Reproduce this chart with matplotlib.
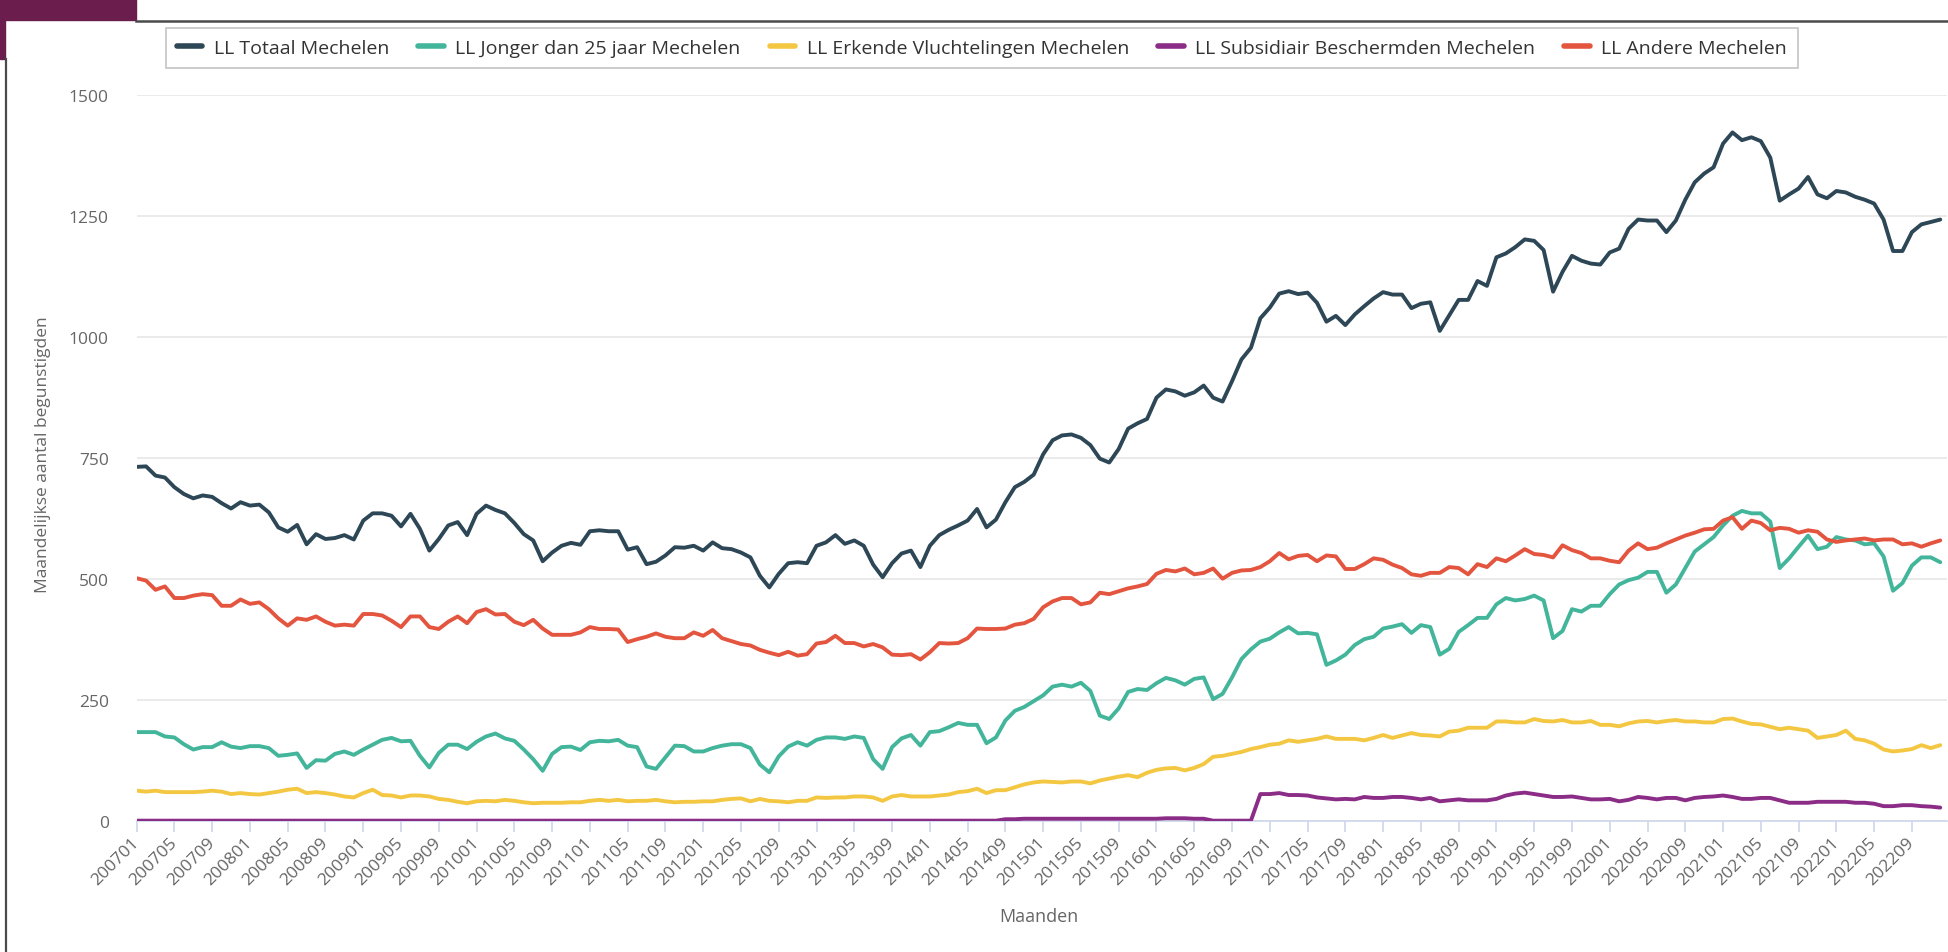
"""Leefloon Mechelen: monthly beneficiaries per category, 2007-2022."""
import matplotlib

matplotlib.use("Agg")
import matplotlib.pyplot as plt  # noqa: E402
from matplotlib.lines import Line2D  # noqa: E402
from matplotlib.patches import Rectangle  # noqa: E402

plt.rcParams["font.family"] = ["Open Sans", "DejaVu Sans"]

months = [f"{year}{month:02d}" for year in range(2007, 2023) for month in range(1, 13)]

totaal = [
    731, 732, 713, 709, 689, 675, 666, 672, 669, 656, 645, 658, 651, 653, 637, 606,
    597, 611, 571, 592, 582, 584, 590, 581, 620, 635, 635, 630, 608, 634, 603, 558,
    582, 610, 617, 590, 634, 651, 642, 635, 615, 592, 579, 536, 554, 568, 574, 570,
    598, 600, 598, 598, 560, 565, 530, 535, 548, 565, 564, 568, 558, 575, 563, 561,
    554, 544, 506, 482, 510, 532, 534, 532, 568, 575, 590, 572, 579, 568, 529, 503,
    532, 552, 558, 524, 568, 590, 601, 610, 620, 644, 606, 622, 658, 689, 700, 715,
    757, 786, 796, 798, 791, 776, 748, 740, 768, 810, 821, 830, 874, 891, 887, 878,
    885, 899, 874, 866, 908, 953, 977, 1038, 1060, 1089, 1094, 1088, 1091, 1070, 1031, 1043,
    1024, 1046, 1063, 1079, 1092, 1087, 1087, 1059, 1068, 1071, 1012, 1044, 1076, 1076, 1115, 1105,
    1164, 1172, 1185, 1201, 1198, 1179, 1093, 1134, 1167, 1157, 1151, 1149, 1174, 1182, 1223, 1242,
    1240, 1240, 1216, 1240, 1283, 1319, 1337, 1350, 1399, 1422, 1406, 1412, 1404, 1370, 1281, 1294,
    1306, 1330, 1294, 1286, 1301, 1298, 1289, 1283, 1275, 1242, 1177, 1177, 1216, 1232, 1237, 1242,
]

jonger = [
    183, 183, 183, 174, 172, 158, 147, 152, 152, 162, 153, 150, 154, 154, 150, 134,
    136, 139, 109, 125, 124, 138, 143, 136, 147, 157, 167, 171, 164, 165, 134, 110,
    140, 157, 157, 148, 163, 174, 180, 170, 165, 147, 127, 103, 138, 152, 153, 146,
    162, 165, 164, 167, 155, 152, 112, 107, 131, 155, 154, 143, 143, 150, 155, 158,
    158, 150, 116, 100, 133, 153, 162, 155, 167, 172, 172, 169, 174, 171, 127, 107,
    152, 170, 177, 155, 183, 185, 193, 202, 198, 198, 160, 172, 207, 227, 235, 247,
    259, 277, 281, 277, 285, 268, 217, 210, 232, 266, 272, 270, 284, 295, 290, 281,
    293, 296, 251, 262, 296, 334, 354, 370, 376, 389, 400, 387, 388, 385, 322, 331,
    343, 363, 375, 380, 397, 401, 406, 388, 404, 400, 343, 355, 390, 404, 419, 419,
    447, 460, 455, 458, 465, 455, 377, 392, 437, 432, 444, 444, 468, 488, 497, 502,
    514, 514, 471, 488, 522, 556, 571, 586, 610, 630, 640, 635, 635, 618, 522, 542,
    566, 589, 561, 566, 586, 581, 579, 571, 573, 546, 475, 491, 527, 544, 544, 534,
]

erkend = [
    62, 60, 62, 59, 59, 59, 59, 60, 62, 60, 55, 57, 55, 54, 57, 60,
    64, 66, 57, 59, 57, 54, 50, 48, 57, 64, 53, 52, 48, 52, 52, 50,
    45, 43, 39, 36, 40, 41, 40, 43, 41, 38, 36, 37, 37, 37, 38, 38,
    41, 43, 41, 43, 40, 41, 41, 43, 40, 38, 39, 39, 40, 40, 43, 45,
    46, 40, 45, 41, 40, 38, 41, 41, 48, 47, 48, 48, 50, 50, 48, 41,
    50, 53, 50, 50, 50, 52, 54, 59, 61, 66, 57, 63, 63, 69, 75, 79,
    81, 80, 79, 81, 81, 77, 83, 87, 91, 94, 90, 99, 105, 108, 109, 104,
    109, 117, 132, 134, 138, 142, 148, 152, 157, 159, 166, 163, 166, 169, 174, 169,
    169, 169, 166, 171, 177, 171, 176, 181, 177, 176, 174, 184, 186, 192, 192, 192,
    205, 205, 203, 203, 210, 206, 205, 208, 203, 203, 206, 198, 198, 195, 201, 205,
    206, 203, 206, 208, 205, 205, 203, 203, 210, 211, 205, 200, 199, 194, 189, 192,
    189, 186, 171, 174, 177, 186, 169, 166, 159, 147, 143, 145, 148, 156, 150, 156,
]

subsidiair = [
    0, 0, 0, 0, 0, 0, 0, 0, 0, 0, 0, 0, 0, 0, 0, 0,
    0, 0, 0, 0, 0, 0, 0, 0, 0, 0, 0, 0, 0, 0, 0, 0,
    0, 0, 0, 0, 0, 0, 0, 0, 0, 0, 0, 0, 0, 0, 0, 0,
    0, 0, 0, 0, 0, 0, 0, 0, 0, 0, 0, 0, 0, 0, 0, 0,
    0, 0, 0, 0, 0, 0, 0, 0, 0, 0, 0, 0, 0, 0, 0, 0,
    0, 0, 0, 0, 0, 0, 0, 0, 0, 0, 0, 0, 3, 3, 4, 4,
    4, 4, 4, 4, 4, 4, 4, 4, 4, 4, 4, 4, 4, 5, 5, 5,
    4, 4, 0, 0, 0, 0, 0, 55, 55, 57, 53, 53, 52, 48, 46, 44,
    45, 44, 49, 47, 47, 49, 49, 47, 44, 47, 40, 42, 44, 42, 42, 42,
    45, 52, 56, 58, 55, 52, 49, 49, 50, 47, 44, 44, 45, 40, 43, 49,
    47, 44, 47, 47, 42, 47, 49, 50, 52, 49, 45, 45, 47, 47, 42, 37,
    37, 37, 39, 39, 39, 39, 37, 37, 35, 30, 30, 32, 32, 30, 29, 27,
]

andere = [
    501, 496, 477, 484, 460, 460, 465, 468, 466, 444, 444, 457, 448, 451, 437, 418,
    403, 418, 415, 422, 411, 403, 405, 403, 427, 427, 424, 413, 400, 422, 422, 400,
    396, 411, 422, 408, 431, 437, 426, 427, 411, 404, 415, 397, 384, 384, 384, 389,
    400, 396, 396, 395, 369, 375, 380, 387, 380, 377, 377, 389, 382, 394, 377, 371,
    365, 362, 353, 347, 342, 349, 341, 344, 366, 369, 382, 367, 367, 360, 365, 358,
    343, 342, 344, 333, 348, 367, 366, 367, 377, 397, 396, 396, 397, 405, 408, 417,
    441, 453, 460, 460, 447, 451, 471, 468, 474, 480, 484, 489, 510, 518, 515, 521,
    509, 512, 521, 500, 512, 517, 518, 524, 536, 553, 540, 547, 549, 536, 548, 546,
    520, 520, 530, 542, 539, 529, 522, 509, 506, 512, 512, 524, 522, 509, 530, 524,
    542, 536, 548, 561, 551, 549, 544, 569, 559, 553, 542, 542, 537, 534, 558, 573,
    561, 564, 573, 581, 589, 595, 602, 603, 620, 627, 603, 620, 615, 600, 605, 603,
    595, 600, 597, 581, 576, 579, 581, 583, 579, 581, 581, 571, 573, 566, 573, 579,
]

series_labels = [
    "LL Totaal Mechelen",
    "LL Jonger dan 25 jaar Mechelen",
    "LL Erkende Vluchtelingen Mechelen",
    "LL Subsidiair Beschermden Mechelen",
    "LL Andere Mechelen",
]
series_colors = ["#2d4756", "#43b59b", "#f4c743", "#8b2c87", "#e4553f"]

TEXT_GREY = "#666666"
AXIS_BLUE = "#ccd6eb"

fig = plt.figure(figsize=(19.49, 9.53), dpi=100, facecolor="white")

# page chrome around the chart (screenshot of a card)
fig.patches.append(Rectangle((0, 1 - 21 / 953), 136 / 1949, 21 / 953,
                             transform=fig.transFigure, color="#6b1d4e", zorder=0))
fig.patches.append(Rectangle((0, 1 - 60 / 953), 5 / 1949, 60 / 953,
                             transform=fig.transFigure, color="#6b1d4e", zorder=0))
fig.lines.append(Line2D([136 / 1949, 1], [1 - 22 / 953, 1 - 22 / 953],
                        transform=fig.transFigure, color="#4a4a4a", linewidth=1.8))
fig.lines.append(Line2D([6 / 1949, 6 / 1949], [0, 1 - 60 / 953],
                        transform=fig.transFigure, color="#4a4a4a", linewidth=1.6))

ax = fig.add_axes([0.0701, 0.1378, 0.9288, 0.7618])
x = list(range(len(months)))
all_series = [totaal, jonger, erkend, subsidiair, andere]
for values, color, label in zip(all_series, series_colors, series_labels):
    ax.plot(x, values, color=color, linewidth=2.8, label=label,
            solid_joinstyle="round", solid_capstyle="round", zorder=3)

ax.set_xlim(0, 191.7)
ax.set_ylim(0, 1500)
ax.set_yticks([0, 250, 500, 750, 1000, 1250, 1500])
ax.grid(axis="y", color="#e6e6e6", linewidth=1.2)
ax.set_axisbelow(True)
for side in ("top", "right", "left"):
    ax.spines[side].set_visible(False)
ax.spines["bottom"].set_color(AXIS_BLUE)
ax.spines["bottom"].set_linewidth(1.2)

ax.set_xticks(x[::4])
ax.set_xticklabels(months[::4], rotation=45, ha="right", va="center",
                   rotation_mode="anchor")
ax.tick_params(axis="x", colors=AXIS_BLUE, length=8, width=1.2,
               labelcolor=TEXT_GREY, labelsize=12.5, pad=6)
ax.tick_params(axis="y", length=0, labelcolor=TEXT_GREY, labelsize=12.5, pad=20)

fig.text(1039 / 1949, 1 - 917 / 953, "Maanden", ha="center", va="center",
         color=TEXT_GREY, fontsize=13)
fig.text(43 / 1949, 1 - 455 / 953, "Maandelijkse aantal begunstigden",
         ha="center", va="center", rotation=90, color=TEXT_GREY, fontsize=12.5)

legend = fig.legend(loc="center", bbox_to_anchor=(982 / 1949, 1 - 49 / 953),
                    ncol=5, fontsize=14, frameon=True, fancybox=False,
                    handlelength=1.3, handletextpad=0.6, columnspacing=1.5,
                    borderpad=0.55, labelcolor="#333333")
legend.get_frame().set_edgecolor("#bbbbbb")
legend.get_frame().set_linewidth(1.3)
for handle in legend.get_lines():
    handle.set_linewidth(4)

fig.savefig("out.png", dpi=100, facecolor="white")
